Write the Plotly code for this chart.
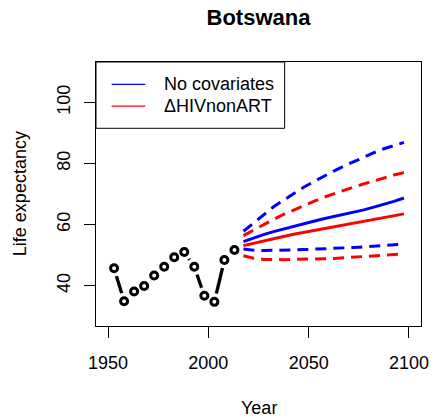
import plotly.graph_objects as go

# ---- data ----
hist_years = [1953, 1958, 1963, 1968, 1973, 1978, 1983, 1988, 1993, 1998, 2003, 2008, 2013]
hist_e0 = [45.7, 34.9, 38.1, 39.9, 43.3, 46.2, 49.3, 51.0, 46.2, 36.7, 34.7, 48.4, 51.7]

proj_years = [2017.5, 2022.5, 2027.5, 2032.5, 2037.5, 2042.5, 2047.5, 2052.5, 2057.5,
              2062.5, 2067.5, 2072.5, 2077.5, 2082.5, 2087.5, 2092.5, 2097.5]
nocov_median = [54.4, 55.6, 56.7, 57.7, 58.6, 59.5, 60.3, 61.1, 61.9, 62.6, 63.3, 64.0, 64.8, 65.7, 66.6, 67.6, 68.7]
nocov_upper = [57.8, 60.5, 63.3, 65.8, 68.0, 70.2, 72.2, 74.0, 75.8, 77.5, 79.1, 80.6, 82.1, 83.5, 84.8, 85.9, 86.9]
nocov_lower = [52.0, 51.6, 51.5, 51.5, 51.6, 51.7, 51.8, 51.9, 52.0, 52.1, 52.3, 52.5, 52.7, 52.9, 53.1, 53.4, 53.6]
hiv_median = [53.1, 53.9, 54.7, 55.4, 56.1, 56.8, 57.4, 58.0, 58.6, 59.2, 59.8, 60.4, 61.0, 61.7, 62.4, 63.0, 63.5]
hiv_upper = [56.4, 58.2, 60.0, 61.7, 63.3, 64.8, 66.2, 67.6, 68.9, 70.1, 71.2, 72.3, 73.3, 74.3, 75.3, 76.2, 77.0]
hiv_lower = [49.8, 49.0, 48.6, 48.5, 48.5, 48.6, 48.6, 48.7, 48.8, 48.9, 49.1, 49.3, 49.5, 49.7, 49.9, 50.2, 50.4]

series_names = ["No covariates", "\u0394HIVnonART"]
x_ticks = [1950, 2000, 2050, 2100]
y_ticks = [40, 60, 80, 100]

FONT = "Liberation Sans, Arial, Helvetica, sans-serif"
BLUE = "#0000FF"
RED = "#FF0000"
DASH = "11px,7px"

fig = go.Figure()

# observed history: line, white gaps, open circles
fig.add_trace(go.Scatter(x=hist_years, y=hist_e0, mode="lines",
                         line=dict(color="black", width=3.3), showlegend=False, hoverinfo="skip"))
fig.add_trace(go.Scatter(x=hist_years, y=hist_e0, mode="markers",
                         marker=dict(symbol="circle", size=17, color="white", line=dict(width=0)),
                         showlegend=False, hoverinfo="skip"))
fig.add_trace(go.Scatter(x=hist_years, y=hist_e0, mode="markers",
                         marker=dict(symbol="circle", size=7, color="white",
                                     line=dict(color="black", width=3)),
                         showlegend=False))

# projections
for ys, col in [(nocov_upper, BLUE), (nocov_lower, BLUE), (hiv_upper, RED), (hiv_lower, RED)]:
    fig.add_trace(go.Scatter(x=proj_years, y=ys, mode="lines",
                             line=dict(color=col, width=3, dash=DASH), showlegend=False))
fig.add_trace(go.Scatter(x=proj_years, y=nocov_median, mode="lines", name=series_names[0],
                         line=dict(color=BLUE, width=3), showlegend=False))
fig.add_trace(go.Scatter(x=proj_years, y=hiv_median, mode="lines", name=series_names[1],
                         line=dict(color=RED, width=3), showlegend=False))

# full-window figure (page body margin is removed below)
W, H = 439, 419
L, R, T, B = 96, 10, 62, 93
pw = W - L - R
ph = H - T - B


def px_x(page_x):
    return (page_x - L) / pw


def px_y(page_y):
    return (H - B - page_y) / ph


# legend (box, sample lines, labels)
leg_rows = [84.3, 106.2]
leg_cols = [BLUE, RED]
shapes = [dict(type="rect", xref="paper", yref="paper",
               x0=0, x1=px_x(289.3), y0=px_y(128.3), y1=1,
               line=dict(color="black", width=1), fillcolor="rgba(0,0,0,0)")]
annotations = []
for name, col, ry in zip(series_names, leg_cols, leg_rows):
    shapes.append(dict(type="line", xref="paper", yref="paper",
                       x0=px_x(112), x1=px_x(146.5), y0=px_y(ry), y1=px_y(ry),
                       line=dict(color=col, width=1.3)))
    annotations.append(dict(text=name, xref="paper", yref="paper", x=px_x(163.3), y=px_y(ry),
                            xanchor="left", yanchor="middle", showarrow=False,
                            font=dict(size=18, family=FONT, color="black")))

annotations += [
    dict(text="Year", xref="paper", yref="paper", x=0.5, y=px_y(407.7),
         xanchor="center", yanchor="middle", showarrow=False,
         font=dict(size=18, family=FONT, color="black")),
    dict(text="Life expectancy", xref="paper", yref="paper", x=px_x(18.3), y=0.5,
         xanchor="center", yanchor="middle", textangle=-90, showarrow=False,
         font=dict(size=18, family=FONT, color="black")),
]

fig.update_layout(
    width=W, height=H,
    margin=dict(l=L, r=R, t=T, b=B, pad=0),
    paper_bgcolor="white", plot_bgcolor="white",
    font=dict(family=FONT, size=18, color="black"),
    title=dict(text="<b>Botswana</b>", font=dict(size=22, family=FONT, color="black"),
               x=0.5, xref="paper", xanchor="center",
               y=1 - 17.5 / H, yref="container", yanchor="middle"),
    showlegend=False,
    hovermode=False,
    xaxis=dict(range=[1944, 2106], tickvals=x_ticks, ticktext=[str(v) for v in x_ticks],
               ticks="outside", ticklen=11, tickwidth=1, tickcolor="black",
               ticklabelstandoff=9,
               showline=True, mirror=True, linecolor="black", linewidth=1,
               showgrid=False, zeroline=False,
               tickfont=dict(size=18, family=FONT, color="black")),
    yaxis=dict(range=[26.8, 113.2], tickvals=y_ticks, ticktext=[str(v) for v in y_ticks],
               ticks="outside", ticklen=11, tickwidth=1, tickcolor="black",
               ticklabelstandoff=7,
               showline=True, mirror=True, linecolor="black", linewidth=1,
               showgrid=False, zeroline=False, tickangle=-90,
               tickfont=dict(size=18, family=FONT, color="black")),
    shapes=shapes,
    annotations=annotations,
)

fig.write_html("out.html",
               config={"displayModeBar": False, "staticPlot": True},
               post_script="document.body.style.margin='0';document.body.style.overflow='hidden';")
